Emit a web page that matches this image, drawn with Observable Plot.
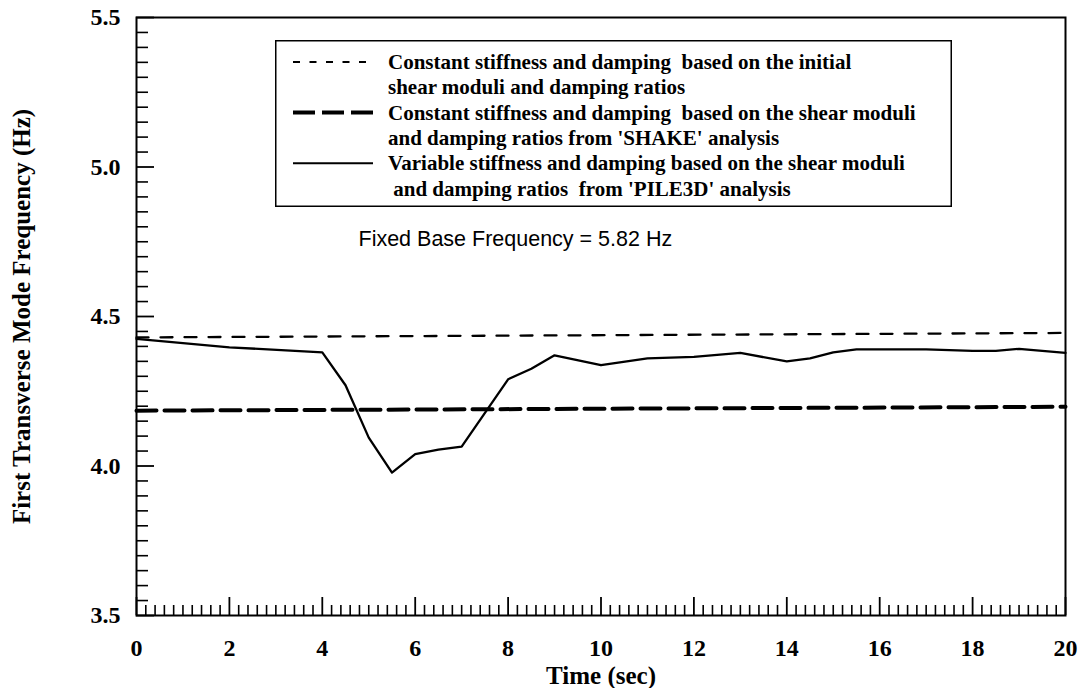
<!DOCTYPE html>
<html>
<head>
<meta charset="utf-8">
<script src="https://cdn.jsdelivr.net/npm/d3@7"></script>
<script src="https://cdn.jsdelivr.net/npm/@observablehq/plot@0.6"></script>
<style>
  html, body { margin: 0; padding: 0; background: #fff; }
  #wrap { position: relative; width: 1081px; height: 688px; }
  #wrap > svg.chart { position: absolute; left: 0; top: 0; }
</style>
</head>
<body>
<div id="wrap"></div>
<script>
// ---- Data ----
const time = [0, 2, 4, 4.5, 5, 5.5, 6, 6.5, 7, 8, 8.5, 9, 10, 11, 12, 13, 14, 14.5, 15, 15.5, 16, 17, 18, 18.5, 19, 20];
const variableFreq = [4.425, 4.397, 4.38, 4.27, 4.095, 3.978, 4.04, 4.055, 4.065, 4.29, 4.325, 4.37, 4.337, 4.36, 4.365, 4.378, 4.35, 4.36, 4.38, 4.39, 4.39, 4.39, 4.385, 4.385, 4.392, 4.378];
const initialTime = [0, 20];
const initialFreq = [4.43, 4.445];
const shakeTime = [0, 20];
const shakeFreq = [4.185, 4.198];

const xTickValues = [0, 2, 4, 6, 8, 10, 12, 14, 16, 18, 20];
const yTickValues = [3.5, 4.0, 4.5, 5.0, 5.5];
const xMinorValues = d3.range(0, 20.0001, 0.2).filter(v => Math.abs(v / 2 - Math.round(v / 2)) > 1e-6);
const yMinorValues = d3.range(3.5, 5.5001, 0.05).filter(v => Math.abs(v / 0.5 - Math.round(v / 0.5)) > 1e-6);

const xLabel = "Time (sec)";
const yLabel = "First Transverse Mode Frequency (Hz)";
const note = "Fixed Base Frequency = 5.82 Hz";

const legendLabels = [
  ["Constant stiffness and damping  based on the initial", "shear moduli and damping ratios"],
  ["Constant stiffness and damping  based on the shear moduli", "and damping ratios from 'SHAKE' analysis"],
  ["Variable stiffness and damping based on the shear moduli", " and damping ratios  from 'PILE3D' analysis"]
];

// ---- Layout ----
const W = 1081, H = 688;
const mL = 136, mR = 16, mT = 17, mB = 73;
const plotW = W - mL - mR, plotH = H - mT - mB;
const serif = "'Liberation Serif', 'Times New Roman', serif";
const sans = "'Liberation Sans', Arial, sans-serif";

const toPts = (xs, ys) => xs.map((x, i) => ({x, y: ys[i]}));

const chart = Plot.plot({
  width: W, height: H,
  marginLeft: mL, marginRight: mR, marginTop: mT, marginBottom: mB,
  x: {domain: [0, 20], axis: null},
  y: {domain: [3.5, 5.5], axis: null},
  style: {fontFamily: serif, background: "white", color: "black"},
  marks: [
    // data lines
    Plot.line(toPts(initialTime, initialFreq), {x: "x", y: "y", stroke: "black", strokeWidth: 2.3, strokeDasharray: "12,12"}),
    Plot.line(toPts(shakeTime, shakeFreq), {x: "x", y: "y", stroke: "black", strokeWidth: 4, strokeDasharray: "20,8"}),
    Plot.line(toPts(time, variableFreq), {x: "x", y: "y", stroke: "black", strokeWidth: 2.3, strokeLinejoin: "round"}),
    // inward ticks
    Plot.ruleX(xMinorValues, {x: d => d, insetTop: plotH - 10, stroke: "black", strokeWidth: 1.6}),
    Plot.ruleX(xTickValues, {x: d => d, insetTop: plotH - 18, stroke: "black", strokeWidth: 1.8}),
    Plot.ruleY(yMinorValues, {y: d => d, insetRight: plotW - 12, stroke: "black", strokeWidth: 1.6}),
    Plot.ruleY(yTickValues, {y: d => d, insetRight: plotW - 18, stroke: "black", strokeWidth: 1.8}),
    Plot.frame({stroke: "black", strokeWidth: 2}),
    // tick labels
    Plot.text(xTickValues, {x: d => d, text: d => String(d), frameAnchor: "bottom", dy: 33, lineAnchor: "middle", fontSize: 24, fontWeight: "bold", fontFamily: serif}),
    Plot.text(yTickValues, {y: d => d, text: d => d.toFixed(1), frameAnchor: "left", dx: -16, textAnchor: "end", lineAnchor: "middle", fontSize: 24, fontWeight: "bold", fontFamily: serif}),
    // axis titles
    Plot.text([xLabel], {text: d => d, frameAnchor: "bottom", dy: 68, lineAnchor: "bottom", textAnchor: "middle", fontSize: 25, fontWeight: "bold", fontFamily: serif}),
    Plot.text([yLabel], {text: d => d, frameAnchor: "left", dx: -115, rotate: -90, textAnchor: "middle", lineAnchor: "middle", fontSize: 25, fontWeight: "bold", fontFamily: serif}),
    // annotation
    Plot.text([note], {text: d => d, frameAnchor: "top-left", dx: 358 - mL, dy: 245 - mT, textAnchor: "start", lineAnchor: "bottom", fontSize: 21.5, fontFamily: sans})
  ]
});
chart.classList.add("chart");
document.getElementById("wrap").appendChild(chart);

// ---- Legend (boxed, inside the plot) ----
const LW = 677, LH = 167;
const lsvg = d3.select("#wrap").append("svg")
  .attr("id", "legend").attr("width", LW).attr("height", LH)
  .style("position", "absolute").style("left", "275px").style("top", "40px")
  .style("font-family", serif);
lsvg.append("rect").attr("x", 0.75).attr("y", 0.75).attr("width", LW - 1.5).attr("height", LH - 1.5)
  .attr("fill", "white").attr("stroke", "black").attr("stroke-width", 1.5);
const sampleStyles = [
  {w: 2, dash: "7,9.5"},
  {w: 4, dash: "22,7"},
  {w: 2, dash: null}
];
const rowStep = 25.3, row0 = 22;
legendLabels.forEach((lines, k) => {
  const yc = row0 + rowStep * (2 * k);
  lsvg.append("line").attr("x1", 18).attr("x2", 98).attr("y1", yc).attr("y2", yc)
    .attr("stroke", "black").attr("stroke-width", sampleStyles[k].w)
    .attr("stroke-dasharray", sampleStyles[k].dash);
  lines.forEach((t, j) => {
    lsvg.append("text").attr("x", 113).attr("y", yc + rowStep * j + 7)
      .attr("font-size", 21).attr("font-weight", "bold")
      .attr("xml:space", "preserve").style("white-space", "pre")
      .text(t);
  });
});
</script>
</body>
</html>
